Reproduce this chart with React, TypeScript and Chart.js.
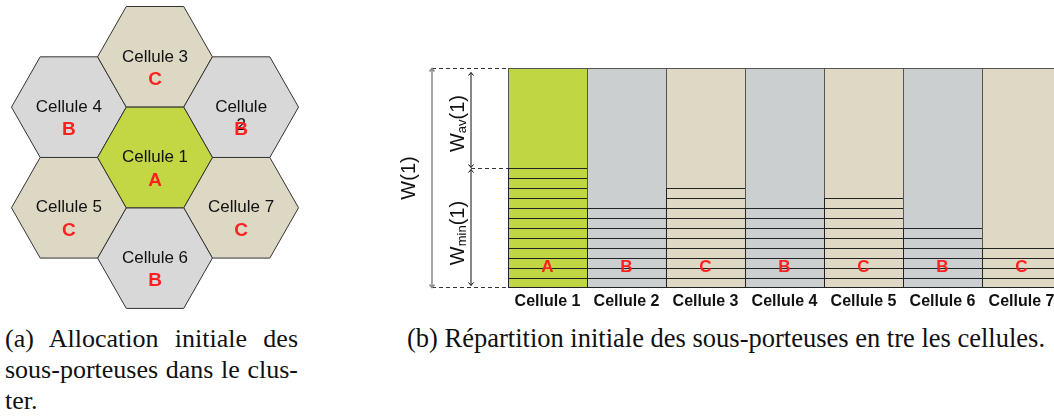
import React, { useEffect, useRef } from 'react';
import { Chart, registerables } from 'chart.js';

Chart.register(...registerables);

// ---------- data ----------
const cellNames = ['Cellule 1', 'Cellule 2', 'Cellule 3', 'Cellule 4', 'Cellule 5', 'Cellule 6', 'Cellule 7'];
const cellGroups = ['A', 'B', 'C', 'B', 'C', 'B', 'C'];
// flat-top hexagonal grid position of each cell (column, half-row)
const hexCol = [0, 1, 0, -1, -1, 0, 1];
const hexRow = [0, 0.5, 1, 0.5, -0.5, -1, -0.5];
// sub-carriers initially allocated in each cell, and the total band W(1)
const subcarriers = [12, 8, 10, 8, 9, 6, 4];
const totalBand = 22;
const captionA = ['(a) Allocation initiale des', 'sous-porteuses dans le clus-', 'ter.'];
const captionB = '(b) Répartition initiale des sous-porteuses en tre les cellules.';

const hexFill: Record<string, string> = { A: '#c3d745', B: '#d8d8d8', C: '#ddd8c4' };
const barFill: Record<string, string> = { A: '#c1d643', B: '#cbcfcf', C: '#ded8c4' };
const RED = '#ff1f1f';
const SANS = '"Liberation Sans", Arial, sans-serif';

function HexChart() {
  const ref = useRef<HTMLCanvasElement>(null);
  useEffect(() => {
    const SQ3 = Math.sqrt(3);
    const datasets = cellNames.map((name, i) => {
      const cx = hexCol[i] * 1.5;
      const cy = hexRow[i] * SQ3;
      const pts: { x: number; y: number }[] = [];
      for (let k = 0; k <= 6; k++) {
        const a = (k * Math.PI) / 3;
        pts.push({ x: cx + Math.cos(a), y: cy + Math.sin(a) });
      }
      return {
        label: name,
        data: pts,
        fill: 'shape' as any,
        backgroundColor: hexFill[cellGroups[i]],
        borderColor: '#333333',
        borderWidth: 1,
        pointRadius: 0,
        tension: 0,
      };
    });
    const labels = {
      id: 'hexLabels',
      afterDatasetsDraw(chart: any) {
        const ctx = chart.ctx;
        const xs = chart.scales.x;
        const ys = chart.scales.y;
        ctx.save();
        ctx.textAlign = 'center';
        ctx.textBaseline = 'middle';
        cellNames.forEach((name, i) => {
          const px = xs.getPixelForValue(hexCol[i] * 1.5);
          const py = ys.getPixelForValue(hexRow[i] * SQ3);
          ctx.fillStyle = '#111';
          ctx.font = `17px ${SANS}`;
          if (i === 1) {
            const parts = name.split(' ');
            ctx.fillText(parts[0], px, py);
            ctx.fillText(parts[1], px, py + 18);
          } else {
            ctx.fillText(name, px, py);
          }
          ctx.fillStyle = RED;
          ctx.font = `bold 19px ${SANS}`;
          ctx.fillText(cellGroups[i], px, py + 23);
        });
        ctx.restore();
      },
    };
    const chart = new Chart(ref.current as HTMLCanvasElement, {
      type: 'line',
      data: { datasets: datasets as any },
      options: {
        responsive: false,
        animation: false,
        devicePixelRatio: 1,
        layout: { padding: 0 },
        plugins: { legend: { display: false }, tooltip: { enabled: false } },
        scales: {
          x: { type: 'linear', min: -2.7, max: 2.7, display: false },
          y: { type: 'linear', min: -2.66, max: 2.71, display: false },
        },
      },
      plugins: [labels],
    });
    return () => chart.destroy();
  }, []);
  return (
    <canvas
      ref={ref}
      width={310}
      height={312}
      style={{ position: 'absolute', left: 0, top: 0, width: 310, height: 312 }}
    />
  );
}

function drawRotated(ctx: CanvasRenderingContext2D, x: number, y: number, parts: { t: string; f: string; dy: number }[]) {
  ctx.save();
  let total = 0;
  for (const p of parts) {
    ctx.font = p.f;
    total += ctx.measureText(p.t).width;
  }
  ctx.translate(x, y);
  ctx.rotate(-Math.PI / 2);
  ctx.textBaseline = 'middle';
  ctx.textAlign = 'left';
  ctx.fillStyle = '#111';
  let cur = -total / 2;
  for (const p of parts) {
    ctx.font = p.f;
    ctx.fillText(p.t, cur, p.dy);
    cur += ctx.measureText(p.t).width;
  }
  ctx.restore();
}

function arrowLine(ctx: CanvasRenderingContext2D, x: number, y1: number, y2: number) {
  ctx.beginPath();
  ctx.moveTo(x, y1);
  ctx.lineTo(x, y2);
  ctx.stroke();
  ctx.beginPath();
  ctx.moveTo(x - 2.5, y1 + 3);
  ctx.lineTo(x, y1);
  ctx.lineTo(x + 2.5, y1 + 3);
  ctx.moveTo(x - 2.5, y2 - 3);
  ctx.lineTo(x, y2);
  ctx.lineTo(x + 2.5, y2 - 3);
  ctx.stroke();
}

function BandChart() {
  const ref = useRef<HTMLCanvasElement>(null);
  useEffect(() => {
    const colors = cellGroups.map((g) => barFill[g]);
    const maxBands = Math.max(...subcarriers);
    const datasets: any[] = [];
    for (let k = 0; k < maxBands; k++) {
      datasets.push({
        label: 'sp' + k,
        data: subcarriers.map((n) => (k < n ? 1 : null)),
        backgroundColor: colors,
        borderColor: '#222222',
        borderWidth: { top: 1, left: 1, right: 0, bottom: k === 0 ? 1 : 0 },
        borderSkipped: false,
        inflateAmount: 0,
        stack: 's',
      });
    }
    datasets.push({
      label: 'rest',
      data: subcarriers.map((n) => totalBand - n),
      backgroundColor: colors,
      borderColor: '#555555',
      borderWidth: { top: 1, left: 1, right: 0, bottom: 0 },
      borderSkipped: false,
      inflateAmount: 0,
      stack: 's',
    });

    const deco = {
      id: 'deco',
      afterDatasetsDraw(chart: any) {
        const ctx = chart.ctx as CanvasRenderingContext2D;
        const xs = chart.scales.x;
        const ys = chart.scales.y;
        ctx.save();
        ctx.fillStyle = RED;
        ctx.font = `bold 17px ${SANS}`;
        ctx.textAlign = 'center';
        ctx.textBaseline = 'middle';
        cellGroups.forEach((g, i) => {
          ctx.fillText(g, xs.getPixelForValue(i), ys.getPixelForValue(2.05));
        });
        ctx.restore();
      },
      afterDraw(chart: any) {
        const ctx = chart.ctx as CanvasRenderingContext2D;
        const ys = chart.scales.y;
        const left = chart.chartArea.left;
        const yTop = ys.getPixelForValue(totalBand) + 0.5;
        const yBot = ys.getPixelForValue(0) - 0.5;
        const yMid = ys.getPixelForValue(subcarriers[0]) + 0.5;
        const xW = left - 76;
        const xA = left - 37;
        ctx.save();
        // dashed guides
        ctx.strokeStyle = '#333';
        ctx.lineWidth = 1;
        ctx.setLineDash([4, 3]);
        ctx.beginPath();
        ctx.moveTo(xW, yTop);
        ctx.lineTo(left, yTop);
        ctx.moveTo(xW, yBot);
        ctx.lineTo(left, yBot);
        ctx.moveTo(xA, yMid);
        ctx.lineTo(left, yMid);
        ctx.stroke();
        ctx.setLineDash([]);
        // W(1) arrow
        ctx.strokeStyle = '#888';
        ctx.lineWidth = 1.5;
        arrowLine(ctx, xW, yTop, yBot);
        // Wav / Wmin arrows
        ctx.strokeStyle = '#111';
        ctx.lineWidth = 1;
        arrowLine(ctx, xA, yTop + 4, yMid - 1);
        arrowLine(ctx, xA, yMid + 1, yBot - 2);
        // labels
        drawRotated(ctx, left - 99, (yTop + yBot) / 2, [{ t: 'W(1)', f: `20px ${SANS}`, dy: 0 }]);
        drawRotated(ctx, left - 50, (yTop + yMid) / 2 + 5, [
          { t: 'W', f: `20px ${SANS}`, dy: 0 },
          { t: 'av', f: `13px ${SANS}`, dy: 4 },
          { t: '(1)', f: `20px ${SANS}`, dy: 0 },
        ]);
        drawRotated(ctx, left - 50, (yMid + yBot) / 2 + 5, [
          { t: 'W', f: `20px ${SANS}`, dy: 0 },
          { t: 'min', f: `13px ${SANS}`, dy: 4 },
          { t: '(1)', f: `20px ${SANS}`, dy: 0 },
        ]);
        ctx.restore();
      },
    };

    const chart = new Chart(ref.current as HTMLCanvasElement, {
      type: 'bar',
      data: { labels: cellNames, datasets },
      options: {
        responsive: false,
        animation: false,
        devicePixelRatio: 1,
        layout: { padding: { left: 118, top: 18, right: 0, bottom: 0 } },
        datasets: { bar: { barPercentage: 1, categoryPercentage: 1 } },
        plugins: { legend: { display: false }, tooltip: { enabled: false } },
        scales: {
          x: {
            stacked: true,
            grid: { display: false, drawTicks: false },
            border: { display: false },
            ticks: { color: '#111', font: { family: SANS, size: 16, weight: 'bold' }, padding: 4, maxRotation: 0 },
            afterFit: (s: any) => {
              s.height = 32;
            },
          },
          y: { stacked: true, min: 0, max: totalBand, display: false },
        },
      },
      plugins: [deco],
    });
    return () => chart.destroy();
  }, []);
  return (
    <canvas
      ref={ref}
      width={671}
      height={270}
      style={{ position: 'absolute', left: 390, top: 50, width: 671, height: 270 }}
    />
  );
}

export default function App() {
  const serif = '"Liberation Serif", "Times New Roman", serif';
  return (
    <div
      style={{
        position: 'fixed',
        left: 0,
        top: 0,
        width: 1054,
        height: 417,
        overflow: 'hidden',
        background: '#fff',
      }}
    >
      <HexChart />
      <BandChart />
      <div
        style={{
          position: 'absolute',
          left: 5,
          top: 323,
          width: 293,
          fontFamily: serif,
          fontSize: 26,
          lineHeight: '31px',
          color: '#111',
        }}
      >
        {captionA.map((line, i) => (
          <div key={i} style={{ textAlign: 'justify', textAlignLast: i < 2 ? 'justify' : 'left', whiteSpace: 'nowrap' }}>
            {line}
          </div>
        ))}
      </div>
      <div
        style={{
          position: 'absolute',
          left: 407,
          top: 323,
          fontFamily: serif,
          fontSize: 26.5,
          lineHeight: '31px',
          color: '#111',
          whiteSpace: 'nowrap',
        }}
      >
        {captionB}
      </div>
    </div>
  );
}
